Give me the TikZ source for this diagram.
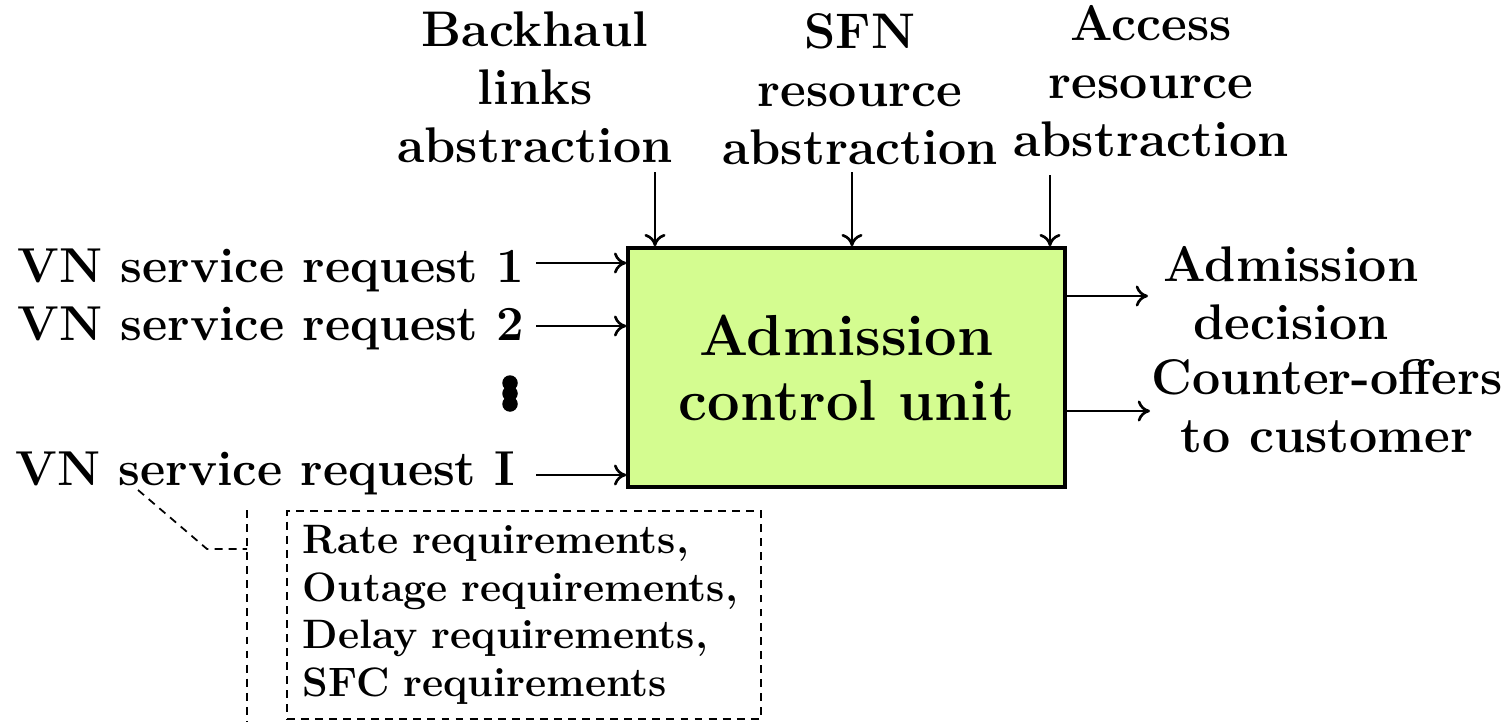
\documentclass[tikz,border=0pt]{standalone}
\usepackage{fontspec}
\usetikzlibrary{arrows.meta}
\definecolor{acugreen}{RGB}{212,252,144}

\begin{document}
\begin{tikzpicture}[
	lbl/.style={ font=\fontsize{28.5}{33}\selectfont\bfseries, align=center, inner sep=0pt },
	req/.style={ font=\fontsize{27.9}{33}\selectfont\bfseries, anchor=base west, inner sep=0pt },
	acu/.style={ draw, line width=2pt, fill=acugreen, minimum width=8.74cm, minimum height=4.78cm, align=center, font=\fontsize{32.9}{37}\selectfont\bfseries },
	note/.style={ draw, dash pattern=on 4.5pt off 3.5pt, line width=1pt, anchor=north west, align=left, text width=8.84cm, inner xsep=0.32cm, inner ysep=0pt, minimum height=4.16cm, font=\fontsize{23.4}{27.3}\selectfont\bfseries },
	arr/.style={ -{To[length=7pt,width=12pt]}, line width=1.5pt },
	callout/.style={ dash pattern=on 4.5pt off 3.5pt, line width=1pt },
	vdot/.style={ circle, fill, inner sep=0pt, minimum size=0.31cm }
]
\useasboundingbox (0,0) rectangle (30.16,14.42);

\node[acu] at (16.93,7.07) (acu) {Admission\\control unit};

\node[req] at (0.34,8.78) (req1) {VN service request 1};
\node[req] at (0.34,7.62) (req2) {VN service request 2};
\node[req] at (0.3,4.72) (reqI) {VN service request I};
\foreach \y/\n in {6.76/1, 6.55/2, 6.34/3}
	\node[vdot] at (10.2,\y) (d\n) {};

\coordinate (in1) at (10.72,9.16);
\coordinate (in2) at (10.72,7.9);
\coordinate (inI) at (10.72,4.92);
\draw[arr] (in1) to (in1 -| acu.west);
\draw[arr] (in2) to (in2 -| acu.west);
\draw[arr] (inI) to (inI -| acu.west);

\node[lbl, anchor=south] at (10.7,11.16) (bh) {Backhaul\\links\\abstraction};
\node[lbl, anchor=south] at (17.2,11.12) (sfn) {SFN\\resource\\abstraction};
\node[lbl, anchor=south] at (23.02,11.28) (acc) {Access\\resource\\abstraction};

\coordinate (top1) at (13.1,10.98);
\coordinate (top2) at (17.04,10.98);
\coordinate (top3) at (21.0,10.92);
\draw[arr] (top1) to (top1 |- acu.north);
\draw[arr] (top2) to (top2 |- acu.north);
\draw[arr] (top3) to (top3 |- acu.north);

\node[lbl, anchor=south] at (25.82,7.62) (dec) {Admission\\decision};
\node[lbl, anchor=south] at (26.54,5.36) (cof) {Counter-offers\\to customer};

\coordinate (out1) at (22.96,8.5);
\coordinate (out2) at (23.0,6.2);
\draw[arr] (out1 -| acu.east) to (out1);
\draw[arr] (out2 -| acu.east) to (out2);

\node[note] at (5.72,4.22) (reqs) {Rate requirements,\\Outage requirements,\\Delay requirements,\\SFC requirements};

\coordinate (svc) at (2.76,4.62);
\coordinate (bend) at (4.14,3.44);
\coordinate (bar) at (4.94,3.44);
\draw[callout] (svc) -- (bend) -- (bar);
\draw[callout] (4.94,4.22) -- (4.94,0);

\end{tikzpicture}
\end{document}
